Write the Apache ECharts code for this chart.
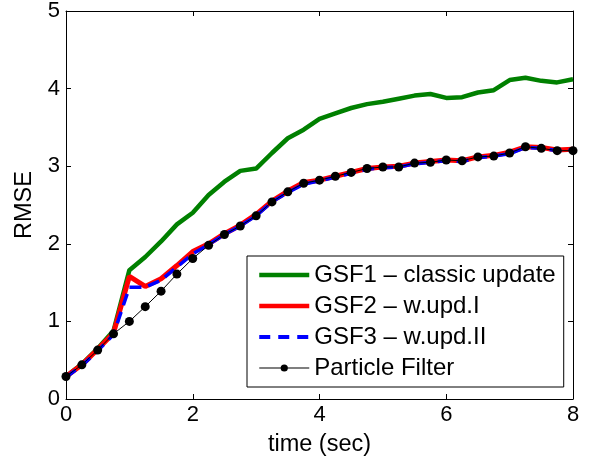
<!DOCTYPE html>
<html>
<head>
<meta charset="utf-8">
<script src="https://cdn.jsdelivr.net/npm/echarts@6/dist/echarts.min.js"></script>
<style>
  html, body { margin: 0; padding: 0; background: #fff; }
  #main { width: 591px; height: 462px; }
</style>
</head>
<body>
<div id="main"></div>
<script>
// time in seconds, one sample every 0.25 s
var times = [0, 0.25, 0.5, 0.75, 1, 1.25, 1.5, 1.75, 2, 2.25, 2.5, 2.75, 3, 3.25, 3.5, 3.75,
             4, 4.25, 4.5, 4.75, 5, 5.25, 5.5, 5.75, 6, 6.25, 6.5, 6.75, 7, 7.25, 7.5, 7.75, 8];

var gsf1 = [0.29, 0.45, 0.65, 0.88, 1.66, 1.83, 2.03, 2.25, 2.40, 2.63, 2.80, 2.94, 2.97, 3.17, 3.36, 3.47,
            3.61, 3.68, 3.75, 3.80, 3.83, 3.87, 3.91, 3.93, 3.88, 3.89, 3.95, 3.98, 4.11, 4.14, 4.10, 4.08, 4.12];
var gsf2 = [0.29, 0.44, 0.64, 0.85, 1.58, 1.45, 1.55, 1.72, 1.90, 2.00, 2.13, 2.24, 2.38, 2.55, 2.68, 2.79,
            2.82, 2.87, 2.92, 2.97, 2.99, 3.00, 3.04, 3.06, 3.08, 3.07, 3.12, 3.14, 3.18, 3.25, 3.24, 3.21, 3.22];
var gsf3 = [0.28, 0.43, 0.62, 0.83, 1.44, 1.44, 1.53, 1.70, 1.87, 1.99, 2.12, 2.23, 2.36, 2.54, 2.66, 2.77,
            2.81, 2.86, 2.91, 2.96, 2.98, 2.99, 3.03, 3.05, 3.07, 3.06, 3.11, 3.13, 3.16, 3.24, 3.23, 3.20, 3.21];
var pf   = [0.29, 0.44, 0.63, 0.84, 1.00, 1.19, 1.39, 1.61, 1.81, 1.98, 2.12, 2.23, 2.36, 2.54, 2.67, 2.78,
            2.82, 2.87, 2.92, 2.97, 2.99, 2.99, 3.04, 3.05, 3.08, 3.07, 3.12, 3.13, 3.17, 3.25, 3.23, 3.20, 3.20];

var seriesNames = ['GSF1 \u2013 classic update', 'GSF2 \u2013 w.upd.I', 'GSF3 \u2013 w.upd.II', 'Particle Filter'];

function pairs(vals) {
  return times.map(function (t, i) { return [t, vals[i]]; });
}

var font = 'Liberation Sans, Arial, Helvetica, sans-serif';

var chartDom = document.getElementById('main');
var myChart = echarts.init(chartDom, null, { renderer: 'canvas' });

var axisCommon = {
  axisLine: { show: true, onZero: false, lineStyle: { color: '#000', width: 1 } },
  axisTick: { show: true, inside: true, length: 5, lineStyle: { color: '#000' } },
  splitLine: { show: false }
};

var option = {
  animation: false,
  backgroundColor: '#fff',
  grid: { left: 66, right: 18, top: 9, bottom: 63 },
  legend: {
    orient: 'vertical',
    left: 247,
    top: 256,
    padding: [7, 8, 7, 10],
    itemGap: 7,
    itemWidth: 50,
    itemHeight: 9,
    borderColor: '#000',
    borderWidth: 1,
    borderRadius: 0,
    backgroundColor: '#fff',
    textStyle: { fontFamily: font, fontSize: 24, lineHeight: 24, color: '#000' },
    data: [
      { name: seriesNames[0], itemStyle: { opacity: 0 }, lineStyle: { width: 4.5 } },
      { name: seriesNames[1], itemStyle: { opacity: 0 }, lineStyle: { width: 4.5 } },
      { name: seriesNames[2], itemStyle: { opacity: 0 }, lineStyle: { width: 4, type: [11, 8] } },
      { name: seriesNames[3], lineStyle: { width: 1.2, color: '#000' } }
    ]
  },
  xAxis: [
    Object.assign({
      type: 'value', min: 0, max: 8, interval: 2,
      name: 'time (sec)', nameLocation: 'middle', nameGap: 34,
      nameTextStyle: { fontFamily: font, fontSize: 23.5, color: '#000' },
      axisLabel: { fontFamily: font, fontSize: 22, color: '#000', margin: 5 }
    }, axisCommon),
    Object.assign({
      type: 'value', min: 0, max: 8, interval: 2, position: 'top',
      axisLabel: { show: false }
    }, axisCommon)
  ],
  yAxis: [
    Object.assign({
      type: 'value', min: 0, max: 5, interval: 1,
      name: 'RMSE', nameLocation: 'middle', nameGap: 28,
      nameTextStyle: { fontFamily: font, fontSize: 23.5, color: '#000' },
      axisLabel: { fontFamily: font, fontSize: 22, color: '#000', margin: 6 }
    }, axisCommon),
    Object.assign({
      type: 'value', min: 0, max: 5, interval: 1, position: 'right',
      axisLabel: { show: false }
    }, axisCommon)
  ],
  series: [
    {
      name: seriesNames[0], type: 'line', data: pairs(gsf1),
      symbol: 'none', color: '#008000',
      lineStyle: { color: '#008000', width: 4.5 }
    },
    {
      name: seriesNames[1], type: 'line', data: pairs(gsf2),
      symbol: 'none', color: '#ff0000',
      lineStyle: { color: '#ff0000', width: 5 }
    },
    {
      name: seriesNames[2], type: 'line', data: pairs(gsf3),
      symbol: 'none', color: '#0000ff',
      lineStyle: { color: '#0000ff', width: 3.5, type: [12, 7] }
    },
    {
      name: seriesNames[3], type: 'line', data: pairs(pf),
      symbol: 'circle', symbolSize: 9, color: '#000',
      itemStyle: { color: '#000' },
      lineStyle: { color: '#000', width: 1 }
    }
  ]
};

option && myChart.setOption(option);
</script>
</body>
</html>
